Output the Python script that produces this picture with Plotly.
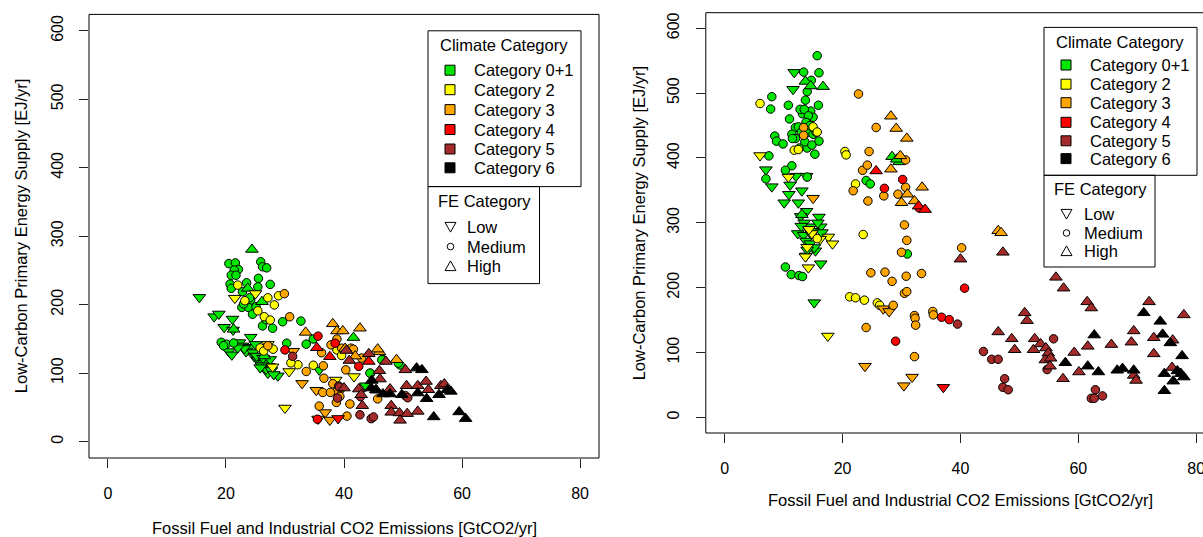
import plotly.graph_objects as go

W, H = 1203, 537
FONT = "Liberation Sans, Arial, Helvetica, sans-serif"

CATEGORIES = ["Category 0+1", "Category 2", "Category 3", "Category 4", "Category 5", "Category 6"]
CAT_COLORS = ["#00E600", "#FFFF00", "#FFA500", "#FF0000", "#A52A2A", "#000000"]
FE_LABELS = ["Low", "Medium", "High"]
X_TICKS = [0, 20, 40, 60, 80]
Y_TICKS = [0, 100, 200, 300, 400, 500, 600]
X_TITLE = "Fossil Fuel and Industrial CO2 Emissions [GtCO2/yr]"
Y_TITLE = "Low-Carbon Primary Energy Supply [EJ/yr]"

# ---------------- LEFT PANEL ----------------
L_C01_LOW_X = [15.5, 18.0, 18.8, 19.7, 21.1, 21.2, 22.3, 22.8, 24.2, 24.0, 23.4, 24.8, 25.4, 25.9, 26.5, 20.5, 21.0, 27.3, 27.1, 28.8, 35.8, 43.7, 23.1, 24.6, 25.2, 26.0, 26.8, 27.7, 28.1, 25.8, 22.0, 26.3, 27.5, 25.0]
L_C01_LOW_Y = [210.7, 182.5, 186.4, 167.0, 179.0, 163.0, 144.6, 139.8, 152.5, 137.9, 131.5, 124.2, 119.4, 117.0, 114.6, 131.5, 126.7, 109.7, 100.0, 96.0, 104.8, 81.5, 136.0, 130.0, 125.0, 111.0, 106.0, 104.0, 98.0, 108.0, 137.0, 122.0, 120.0, 142.0]
L_C01_MED_X = [20.5, 21.6, 22.1, 21.4, 20.9, 21.7, 25.9, 26.2, 26.9, 25.5, 27.5, 23.5, 20.7, 20.9, 25.4, 22.8, 24.2, 22.7, 23.8, 25.1, 26.2, 27.9, 29.6, 32.7, 30.3, 33.6, 19.2, 20.1, 19.6, 34.8, 44.5, 46.6, 49.5, 46.4, 49.2, 44.4, 23.0, 24.5, 26.8, 21.3, 24.0]
L_C01_MED_Y = [260.0, 261.0, 251.5, 250.5, 243.0, 243.0, 262.6, 255.3, 253.8, 238.4, 229.6, 232.0, 230.0, 223.8, 226.0, 218.9, 206.8, 196.0, 196.0, 197.0, 169.0, 165.6, 175.0, 176.0, 143.7, 142.3, 145.0, 142.3, 140.0, 149.8, 99.8, 119.8, 112.0, 119.4, 114.6, 100.0, 201.0, 186.0, 178.0, 144.0, 210.0]
L_C01_HIGH_X = [24.4, 23.7, 26.1, 21.3, 41.6, 26.5]
L_C01_HIGH_Y = [280.6, 223.8, 204.3, 164.0, 151.9, 125.0]

L_C2_LOW_X = [21.5, 25.0, 30.7, 30.0, 27.9, 38.6, 41.7, 27.1]
L_C2_LOW_Y = [209.5, 216.3, 102.4, 49.0, 109.2, 89.9, 95.0, 142.0]
L_C2_MED_X = [22.0, 23.2, 25.4, 26.5, 27.5, 27.1, 28.2, 28.9, 25.8, 32.2, 34.8, 38.8, 39.6, 26.4, 31.0, 28.0]
L_C2_MED_Y = [228.6, 205.8, 191.0, 182.4, 177.5, 210.0, 199.6, 213.0, 136.8, 112.2, 111.5, 133.8, 125.8, 132.3, 115.0, 135.0]

L_C3_LOW_X = [32.9, 35.3, 36.8, 37.6, 31.4, 39.0, 35.6]
L_C3_LOW_Y = [85.0, 75.0, 42.4, 31.5, 132.0, 70.0, 33.0]
L_C3_MED_X = [29.9, 30.8, 27.1, 33.6, 36.5, 36.6, 38.1, 38.9, 36.4, 37.7, 38.7, 35.8, 41.0, 40.5, 39.6, 41.2, 40.3, 37.8, 36.2, 38.8, 41.6, 45.7, 43.0, 39.3]
L_C3_MED_Y = [216.0, 182.3, 140.0, 102.4, 110.7, 92.6, 84.5, 74.3, 71.8, 71.8, 57.2, 51.8, 54.9, 37.2, 136.4, 136.4, 104.8, 141.3, 129.8, 149.8, 134.8, 62.4, 122.0, 66.0]
L_C3_HIGH_X = [33.5, 38.1, 38.8, 39.8, 42.7, 46.0, 48.9, 45.7, 41.9, 40.2]
L_C3_HIGH_Y = [159.5, 172.0, 161.5, 161.5, 165.6, 131.0, 119.6, 135.0, 124.8, 136.0]

L_C4_LOW_X = [39.0]
L_C4_LOW_Y = [33.8]
L_C4_MED_X = [35.6, 38.5, 30.0, 42.5, 35.5]
L_C4_MED_Y = [154.0, 143.7, 133.9, 109.8, 32.7]
L_C4_HIGH_X = [35.4, 37.6, 44.2]
L_C4_HIGH_Y = [137.0, 124.0, 117.0]

L_C5_MED_X = [31.3, 39.1, 42.8, 42.7, 44.6, 50.4, 39.2, 38.9, 50.8, 45.0]
L_C5_MED_Y = [124.5, 81.2, 65.5, 39.1, 33.5, 67.0, 79.7, 63.6, 64.0, 36.0]
L_C5_HIGH_X = [44.2, 47.1, 50.4, 40.4, 40.9, 46.0, 46.1, 42.5, 42.9, 40.0, 47.8, 50.6, 52.5, 53.9, 54.3, 56.4, 43.1, 48.0, 48.0, 49.4, 50.7, 52.5, 49.5, 57.0, 45.5]
L_C5_HIGH_Y = [128.2, 117.0, 104.8, 133.0, 118.4, 103.4, 91.3, 76.7, 68.4, 78.2, 76.7, 81.5, 81.5, 87.8, 75.7, 81.5, 52.4, 52.4, 42.7, 41.8, 40.8, 44.1, 31.0, 84.0, 75.0]

L_C6_HIGH_X = [52.3, 53.2, 44.7, 44.6, 45.4, 46.6, 47.8, 49.8, 52.5, 54.0, 56.1, 57.5, 58.1, 55.2, 59.5, 60.6]
L_C6_HIGH_Y = [107.3, 104.8, 89.3, 78.2, 75.7, 69.5, 69.5, 68.4, 70.9, 62.6, 68.4, 75.7, 73.3, 36.0, 43.3, 33.5]

# ---------------- RIGHT PANEL ----------------
R_C01_LOW_X = [11.8, 11.6, 7.0, 8.0, 10.1, 11.1, 10.9, 13.1, 12.5, 13.9, 12.9, 16.0, 14.6, 16.3, 12.4, 13.4, 14.7, 15.4, 13.8, 16.3, 15.2, 12.1, 13.9, 13.5, 14.2, 15.0, 13.8, 14.5, 15.2, 14.0, 15.8, 16.5, 13.0]
R_C01_LOW_Y = [532.0, 506.0, 382.0, 355.8, 331.0, 358.5, 344.0, 349.5, 331.0, 317.9, 310.0, 309.0, 294.0, 294.0, 283.6, 281.0, 282.0, 257.0, 249.0, 237.0, 177.0, 372.0, 372.0, 300.0, 290.0, 287.0, 272.0, 268.0, 262.0, 258.0, 300.0, 285.0, 295.0]
R_C01_MED_X = [15.7, 16.0, 13.4, 14.7, 14.0, 15.9, 10.8, 8.0, 7.8, 13.7, 14.6, 13.2, 15.0, 11.0, 12.0, 11.4, 14.0, 15.0, 16.0, 8.5, 8.8, 9.9, 12.7, 14.0, 15.3, 7.5, 11.4, 10.3, 14.0, 7.0, 24.0, 24.7, 31.0, 10.3, 11.3, 12.6, 13.2, 12.8, 13.5, 14.2, 13.8, 12.5, 14.5, 13.0, 15.5, 12.0, 13.6, 14.8, 11.5]
R_C01_MED_Y = [557.7, 531.4, 532.4, 519.8, 502.4, 481.3, 481.3, 494.5, 475.5, 489.2, 472.3, 468.1, 462.8, 460.2, 447.0, 436.5, 439.1, 436.5, 426.0, 433.8, 426.0, 421.7, 415.4, 415.4, 405.9, 403.3, 388.0, 381.1, 370.6, 367.9, 365.3, 360.0, 252.0, 231.9, 220.3, 218.8, 217.2, 475.0, 475.0, 465.0, 455.0, 448.0, 450.0, 440.0, 440.0, 430.0, 425.0, 420.0, 430.0]
R_C01_HIGH_X = [13.7, 14.6, 16.7, 28.4, 29.6, 13.1, 29.2]
R_C01_HIGH_Y = [518.0, 511.0, 510.0, 402.0, 394.0, 312.6, 398.0]

R_C2_LOW_X = [6.0, 10.8, 14.0, 13.7, 14.2, 17.6, 18.3, 17.5, 14.8, 14.3, 16.2]
R_C2_LOW_Y = [403.8, 370.6, 262.5, 247.8, 230.9, 278.3, 267.8, 125.5, 283.6, 290.0, 275.0]
R_C2_MED_X = [6.0, 15.0, 15.7, 11.8, 12.5, 20.4, 20.6, 22.2, 23.5, 15.7, 21.2, 22.2, 23.7, 25.9, 26.3]
R_C2_MED_Y = [484.0, 448.0, 440.0, 412.0, 413.0, 410.0, 404.8, 360.0, 282.0, 275.7, 186.0, 184.5, 180.8, 176.6, 172.9]

R_C3_LOW_X = [15.0, 23.8, 31.8, 30.4, 26.9, 27.9]
R_C3_LOW_Y = [338.0, 79.0, 62.2, 49.0, 167.6, 163.4]
R_C3_MED_X = [22.7, 25.7, 24.5, 13.4, 13.4, 23.4, 24.2, 24.3, 21.8, 27.0, 30.7, 30.7, 29.4, 30.5, 30.9, 30.0, 24.8, 27.2, 28.4, 30.8, 33.4, 30.5, 30.9, 28.6, 32.2, 32.3, 32.4, 35.3, 35.4, 24.0, 32.2, 40.2]
R_C3_MED_Y = [498.7, 447.0, 410.0, 447.0, 434.9, 381.0, 389.0, 333.7, 349.5, 341.6, 397.0, 354.8, 344.2, 296.8, 273.0, 254.6, 223.0, 224.0, 209.8, 217.7, 221.9, 191.4, 194.0, 172.9, 157.0, 152.9, 142.3, 163.4, 158.1, 138.6, 93.8, 261.5]
R_C3_HIGH_X = [28.2, 29.1, 30.9, 28.2, 29.8, 30.0, 31.0, 32.2, 33.5, 46.4, 46.9]
R_C3_HIGH_Y = [464.4, 445.4, 430.2, 382.7, 403.3, 331.0, 344.2, 333.7, 354.8, 287.8, 284.7]

R_C4_LOW_X = [37.1]
R_C4_LOW_Y = [46.4]
R_C4_MED_X = [27.1, 30.2, 40.7, 36.8, 38.1, 29.0, 33.0]
R_C4_MED_Y = [353.2, 366.9, 199.3, 154.5, 150.8, 117.6, 323.0]
R_C4_HIGH_X = [25.7, 32.9, 34.0]
R_C4_HIGH_Y = [380.0, 325.8, 320.5]

R_C5_MED_X = [39.5, 43.9, 45.3, 46.4, 47.5, 47.2, 48.1, 55.8, 54.7, 62.9, 62.2, 62.7, 64.1]
R_C5_MED_Y = [143.9, 101.7, 89.6, 89.6, 59.6, 46.4, 42.7, 121.2, 73.8, 42.7, 29.5, 29.5, 33.2]
R_C5_HIGH_X = [40.0, 47.2, 56.2, 57.5, 61.5, 62.2, 72.0, 77.9, 50.9, 51.3, 46.4, 48.7, 52.6, 49.2, 52.4, 53.6, 54.5, 54.9, 54.4, 55.3, 55.2, 59.3, 57.4, 60.1, 61.6, 65.6, 69.0, 69.4, 72.8, 72.8, 69.4, 69.8, 76.0, 75.9]
R_C5_HIGH_Y = [244.0, 254.6, 216.0, 199.3, 178.2, 168.7, 178.2, 158.1, 161.3, 149.2, 131.8, 121.2, 121.2, 104.4, 104.4, 113.3, 107.0, 99.0, 88.6, 91.2, 79.0, 100.1, 59.6, 70.1, 109.6, 112.3, 116.0, 133.4, 122.8, 98.0, 64.8, 57.0, 119.1, 77.0]

R_C6_HIGH_X = [62.7, 57.8, 61.6, 63.4, 66.6, 67.5, 69.4, 71.1, 73.9, 74.3, 75.6, 77.6, 74.6, 76.1, 76.8, 77.4, 77.9, 74.6]
R_C6_HIGH_Y = [127.0, 84.3, 79.0, 70.1, 72.7, 75.4, 72.7, 161.3, 148.1, 128.1, 114.9, 94.9, 67.5, 55.9, 71.7, 67.5, 62.2, 41.1]

LEFT_GROUPS = [
    (0, "Low", L_C01_LOW_X, L_C01_LOW_Y), (0, "Medium", L_C01_MED_X, L_C01_MED_Y), (0, "High", L_C01_HIGH_X, L_C01_HIGH_Y),
    (1, "Low", L_C2_LOW_X, L_C2_LOW_Y), (1, "Medium", L_C2_MED_X, L_C2_MED_Y),
    (2, "Low", L_C3_LOW_X, L_C3_LOW_Y), (2, "Medium", L_C3_MED_X, L_C3_MED_Y), (2, "High", L_C3_HIGH_X, L_C3_HIGH_Y),
    (3, "Low", L_C4_LOW_X, L_C4_LOW_Y), (3, "Medium", L_C4_MED_X, L_C4_MED_Y), (3, "High", L_C4_HIGH_X, L_C4_HIGH_Y),
    (4, "Medium", L_C5_MED_X, L_C5_MED_Y), (4, "High", L_C5_HIGH_X, L_C5_HIGH_Y),
    (5, "High", L_C6_HIGH_X, L_C6_HIGH_Y),
]
RIGHT_GROUPS = [
    (0, "Low", R_C01_LOW_X, R_C01_LOW_Y), (0, "Medium", R_C01_MED_X, R_C01_MED_Y), (0, "High", R_C01_HIGH_X, R_C01_HIGH_Y),
    (1, "Low", R_C2_LOW_X, R_C2_LOW_Y), (1, "Medium", R_C2_MED_X, R_C2_MED_Y),
    (2, "Low", R_C3_LOW_X, R_C3_LOW_Y), (2, "Medium", R_C3_MED_X, R_C3_MED_Y), (2, "High", R_C3_HIGH_X, R_C3_HIGH_Y),
    (3, "Low", R_C4_LOW_X, R_C4_LOW_Y), (3, "Medium", R_C4_MED_X, R_C4_MED_Y), (3, "High", R_C4_HIGH_X, R_C4_HIGH_Y),
    (4, "Medium", R_C5_MED_X, R_C5_MED_Y), (4, "High", R_C5_HIGH_X, R_C5_HIGH_Y),
    (5, "High", R_C6_HIGH_X, R_C6_HIGH_Y),
]

SYMBOL = {"Low": "triangle-down", "Medium": "circle", "High": "triangle-up"}
SIZE = {"Low": 11, "Medium": 8.5, "High": 11}

fig = go.Figure()
for groups, xa, ya in ((LEFT_GROUPS, "x", "y"), (RIGHT_GROUPS, "x2", "y2")):
    for cat, fe, xs, ys in groups:
        fig.add_trace(go.Scatter(
            x=xs, y=ys, mode="markers", xaxis=xa, yaxis=ya, showlegend=False,
            name=CATEGORIES[cat] + " / " + fe, cliponaxis=False,
            marker=dict(symbol=SYMBOL[fe], size=SIZE[fe], color=CAT_COLORS[cat],
                        line=dict(color="black", width=1)),
        ))

def px(x):
    return x / W

def py(y):
    return 1 - y / H

# panel geometry in pixels
LB = dict(l=89, r=599, t=14.4, b=458)
RB = dict(l=705.8, r=1215, t=12.7, b=433)

axis_common = dict(showgrid=False, zeroline=False, showline=False, ticks="outside", ticklen=9,
                   tickcolor="#222", tickwidth=1, automargin=False, ticklabeloverflow="allow",
                   tickfont=dict(family=FONT, size=16, color="black"))
fig.update_layout(
    width=W, height=H, margin=dict(l=0, r=0, t=0, b=0),
    paper_bgcolor="white", plot_bgcolor="white",
    font=dict(family=FONT, size=16, color="black"),
    xaxis=dict(domain=[px(LB["l"]), px(LB["r"])], range=[-3.2, 83.2], tickvals=X_TICKS,
               anchor="y", ticklabelstandoff=12, **axis_common),
    yaxis=dict(domain=[py(LB["b"]), py(LB["t"])], range=[-24, 624], tickvals=Y_TICKS,
               anchor="x", tickangle=-90, ticklabelstandoff=10, **axis_common),
    xaxis2=dict(domain=[px(RB["l"]), 1.0], range=[-3.2, 81.15], tickvals=X_TICKS,
                anchor="y2", ticklabelstandoff=12, **axis_common),
    yaxis2=dict(domain=[py(RB["b"]), py(RB["t"])], range=[-24, 624], tickvals=Y_TICKS,
                anchor="x2", tickangle=-90, ticklabelstandoff=10, **axis_common),
)

shapes = []
annotations = []

def line_shape(x0, y0, x1, y1):
    shapes.append(dict(type="line", xref="paper", yref="paper", x0=px(x0), y0=py(y0),
                       x1=px(x1), y1=py(y1), line=dict(color="black", width=1)))

def rect(x0, y0, x1, y1, fill="rgba(0,0,0,0)", lw=1):
    shapes.append(dict(type="rect", xref="paper", yref="paper", x0=px(x0), y0=py(y0),
                       x1=px(x1), y1=py(y1), fillcolor=fill, line=dict(color="black", width=lw)))

def text(x, y, s, anchor="left", size=16.5, angle=0):
    annotations.append(dict(x=px(x), y=py(y), xref="paper", yref="paper", text=s, showarrow=False,
                            xanchor=anchor, yanchor="middle", textangle=angle,
                            font=dict(family=FONT, size=size, color="black")))

def tri(cx, cy, up):
    hw, hh = 5.5, 4.6
    if up:
        pts = [(cx - hw, cy + hh), (cx + hw, cy + hh), (cx, cy - hh - 0.5)]
    else:
        pts = [(cx - hw, cy - hh), (cx + hw, cy - hh), (cx, cy + hh + 0.5)]
    path = "M " + " L ".join(f"{px(a):.5f},{py(b):.5f}" for a, b in pts) + " Z"
    shapes.append(dict(type="path", xref="paper", yref="paper", path=path,
                       line=dict(color="black", width=1)))

def circ(cx, cy, r=3.3):
    shapes.append(dict(type="circle", xref="paper", yref="paper", x0=px(cx - r), y0=py(cy + r),
                       x1=px(cx + r), y1=py(cy - r), line=dict(color="black", width=1)))

# plot boxes
rect(LB["l"], LB["b"], LB["r"], LB["t"])
line_shape(RB["l"], RB["t"], RB["r"], RB["t"])
line_shape(RB["l"], RB["b"], RB["r"], RB["b"])
line_shape(RB["l"], RB["t"], RB["l"], RB["b"])

# axis titles
text((LB["l"] + LB["r"]) / 2, 528, X_TITLE, anchor="center")
text(21, (LB["t"] + LB["b"]) / 2, Y_TITLE, anchor="center", angle=-90)
text((RB["l"] + RB["r"]) / 2, 500, X_TITLE, anchor="center")
text(638.5, (RB["t"] + RB["b"]) / 2, Y_TITLE, anchor="center", angle=-90)

def legend(box, title_c, sq_x, txt_x, rows, fe_box, fe_title, sym_x, fe_txt_x, fe_rows):
    rect(*box)
    text(title_c[0], title_c[1], "Climate Category", anchor="center")
    for i, (name, col) in enumerate(zip(CATEGORIES, CAT_COLORS)):
        cy = rows[i]
        rect(sq_x - 5, cy + 5, sq_x + 5, cy - 5, fill=col)
        text(txt_x, cy, name)
    rect(*fe_box)
    text(fe_title[0], fe_title[1], "FE Category", anchor="center")
    for i, fe in enumerate(FE_LABELS):
        cy = fe_rows[i]
        if fe == "Low":
            tri(sym_x, cy, False)
        elif fe == "Medium":
            circ(sym_x, cy)
        else:
            tri(sym_x, cy, True)
        text(fe_txt_x, cy, fe)

legend((428, 186.6, 581, 30.8), (504, 45), 450, 471.5,
       [70.2, 89.7, 109.6, 129.5, 149.0, 167.8],
       (428, 283.6, 539.5, 186.6), (484, 201), 450.5, 465, [227, 246.6, 266])
legend((1044, 175.3, 1197, 27.4), (1120, 41.8), 1066, 1087.7,
       [65.0, 84.2, 102.7, 122.3, 140.8, 158.6],
       (1044, 267, 1155, 175.3), (1100, 189), 1066.5, 1081.5, [214, 233, 251])

fig.update_layout(shapes=shapes, annotations=annotations)
fig.write_html("out.html", config={"displayModeBar": False},
               post_script="document.body.style.margin='0';document.body.style.overflow='hidden';")
